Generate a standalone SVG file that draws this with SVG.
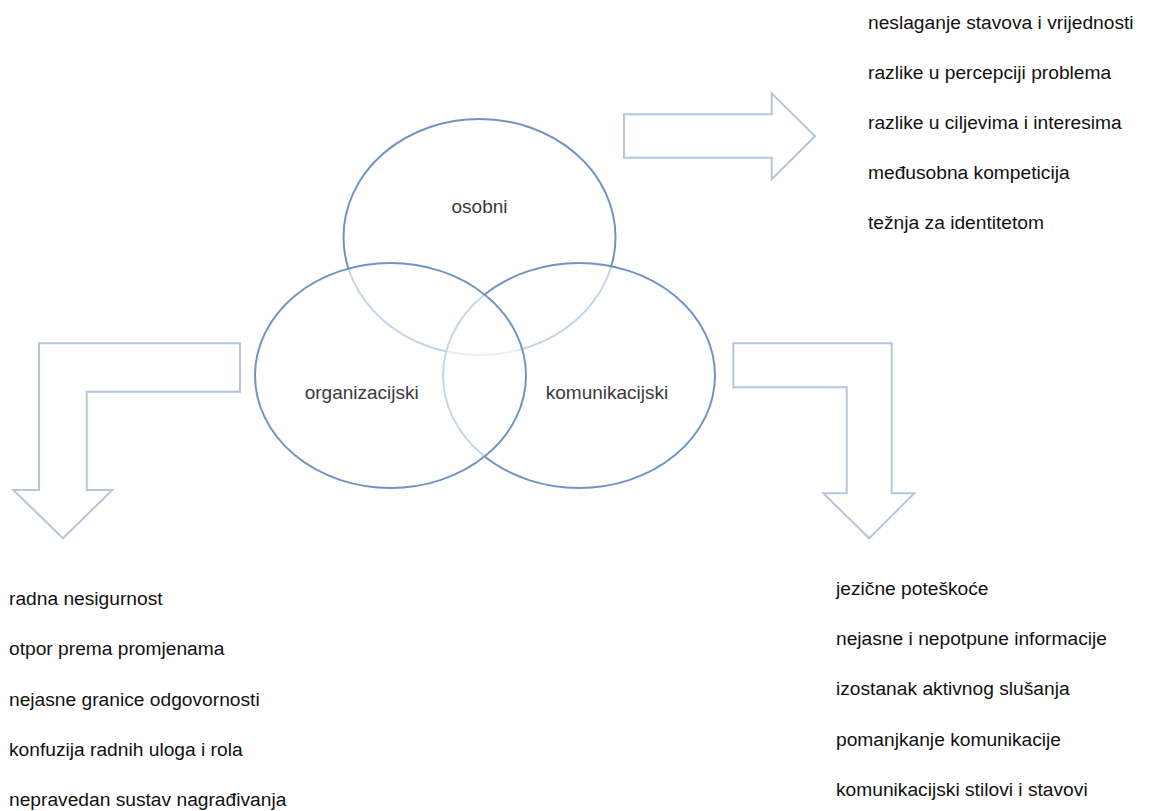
<svg xmlns="http://www.w3.org/2000/svg" width="1149" height="811" viewBox="0 0 1149 811">
<style>
.bg{fill:#ffffff}
.circ{fill:#ffffff;fill-opacity:0.6;stroke:#6f94c5;stroke-width:2}
.arrow{fill:#ffffff;stroke:#b5c6dc;stroke-width:2;stroke-linejoin:miter}
.lbl{font-family:"Liberation Sans",Arial,sans-serif;font-size:19px;fill:#3a3a3a;text-anchor:middle}
.item{font-family:"Liberation Sans",Arial,sans-serif;font-size:19.2px;fill:#111111}
</style>
<rect class="bg" x="0" y="0" width="1149" height="811"/>
<g id="connectors">
<path id="arrow-osobni" class="arrow" d="M624,114.3 L771.7,114.3 L771.7,93.3 L815,136.3 L771.7,179.3 L771.7,157.7 L624,157.7 Z"/>
<path id="arrow-organizacijski" class="arrow" d="M39,343.3 L240,343.3 L240,391.7 L86.7,391.7 L86.7,490 L112.3,490 L63,538.3 L13.3,490 L39,490 Z"/>
<path id="arrow-komunikacijski" class="arrow" d="M733.3,343.3 L891.7,343.3 L891.7,493.3 L914.3,493.3 L869.2,538.3 L823.3,493.3 L846.7,493.3 L846.7,387.3 L733.3,387.3 Z"/>
</g>
<g id="node-osobni">
<ellipse class="circ" cx="479.5" cy="237" rx="136" ry="118"/>
</g>
<g id="node-komunikacijski">
<ellipse class="circ" cx="579" cy="375.5" rx="136" ry="112.5"/>
</g>
<g id="node-organizacijski">
<ellipse class="circ" cx="390.5" cy="375.5" rx="135.5" ry="112.5"/>
</g>
<g id="labels">
<text class="lbl" x="479.5" y="213">osobni</text>
<text class="lbl" x="361.7" y="399">organizacijski</text>
<text class="lbl" x="607" y="399">komunikacijski</text>
</g>
<g id="list-osobni">
<text class="item" x="868" y="29">neslaganje stavova i vrijednosti</text>
<text class="item" x="868" y="79">razlike u percepciji problema</text>
<text class="item" x="868" y="129">razlike u ciljevima i interesima</text>
<text class="item" x="868" y="179">međusobna kompeticija</text>
<text class="item" x="868" y="229">težnja za identitetom</text>
</g>
<g id="list-organizacijski">
<text class="item" x="9" y="605">radna nesigurnost</text>
<text class="item" x="9" y="655">otpor prema promjenama</text>
<text class="item" x="9" y="706">nejasne granice odgovornosti</text>
<text class="item" x="9" y="756">konfuzija radnih uloga i rola</text>
<text class="item" x="9" y="806">nepravedan sustav nagrađivanja</text>
</g>
<g id="list-komunikacijski">
<text class="item" x="836" y="595">jezične poteškoće</text>
<text class="item" x="836" y="645">nejasne i nepotpune informacije</text>
<text class="item" x="836" y="695">izostanak aktivnog slušanja</text>
<text class="item" x="836" y="745.5">pomanjkanje komunikacije</text>
<text class="item" x="836" y="795.5">komunikacijski stilovi i stavovi</text>
</g>
</svg>
